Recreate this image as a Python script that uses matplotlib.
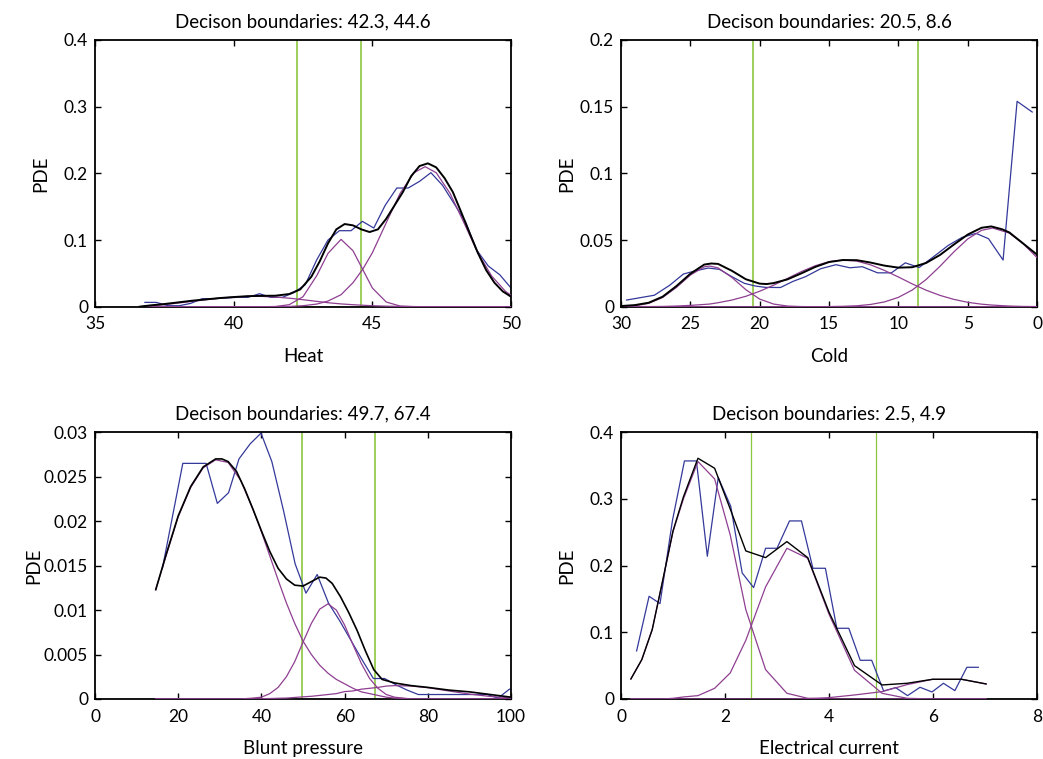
import matplotlib
matplotlib.use("Agg")
import matplotlib.pyplot as plt
from matplotlib.ticker import FixedLocator, FixedFormatter

plt.rcParams['font.family'] = ['Lato', 'DejaVu Sans']
FS = 13.5
TFS = 12.5
plt.rcParams['font.size'] = FS

# ---------------- Panel 1: Heat ----------------
heat_x = [36.80, 37.21, 37.63, 38.04, 38.45, 38.86, 39.28, 39.69, 40.10, 40.51, 40.93,
          41.34, 41.75, 42.16, 42.58, 42.99, 43.40, 43.81, 44.23, 44.64, 45.05, 45.46,
          45.88, 46.29, 46.70, 47.11, 47.53, 47.94, 48.35, 48.76, 49.18, 49.59, 50.00]
heat_pde = [0.0065, 0.0065, 0.0015, 0.0015, 0.005, 0.012, 0.012, 0.013, 0.014, 0.014, 0.0195,
            0.014, 0.014, 0.021, 0.033, 0.070, 0.100, 0.114, 0.114, 0.128, 0.118, 0.152,
            0.178, 0.178, 0.188, 0.201, 0.182, 0.155, 0.128, 0.085, 0.061, 0.048, 0.028]
heat_grid = [36.6, 37.0, 37.5, 38.0, 38.5, 39.0, 39.5, 40.0, 40.5, 41.0, 41.5, 42.0, 42.5,
             43.0, 43.4, 43.87, 44.3, 44.65, 45.0, 45.5, 46.0, 46.5, 46.9, 47.3, 47.8,
             48.3, 48.8, 49.3, 49.8, 50.0]
heat_c1 = [0.0, 0.0015, 0.003, 0.0055, 0.008, 0.0105, 0.0128, 0.0145, 0.0155, 0.0155,
           0.0145, 0.0128, 0.0105, 0.008, 0.006, 0.0042, 0.003, 0.0022, 0.0015, 0.0008,
           0.0004, 0.0002, 0.0001, 0, 0, 0, 0, 0, 0, 0]
heat_c2 = [0, 0, 0, 0, 0, 0, 0, 0, 0, 0,
           0.0003, 0.003, 0.015, 0.047, 0.080, 0.101, 0.084, 0.056, 0.028, 0.007, 0.001, 0.0001,
           0, 0, 0, 0, 0, 0, 0, 0]
heat_c3 = [0, 0, 0, 0, 0, 0, 0, 0, 0, 0,
           0.0001, 0.0004, 0.0015, 0.004, 0.0085, 0.018, 0.036, 0.056, 0.081, 0.126,
           0.170, 0.201, 0.210, 0.201, 0.170, 0.126, 0.081, 0.046, 0.023, 0.017]
heat_mix_x = [36.6, 37.0, 37.5, 38.0, 38.5, 39.0, 39.5, 40.0, 40.5, 41.0, 41.5, 42.0, 42.4,
              42.8, 43.1, 43.4, 43.7, 44.0, 44.3, 44.6, 44.9, 45.2, 45.5, 45.8, 46.1, 46.4,
              46.7, 47.0, 47.3, 47.6, 47.9, 48.2, 48.5, 48.8, 49.1, 49.4, 49.7, 50.0]
heat_mix = [0.000, 0.002, 0.004, 0.0065, 0.009, 0.011, 0.013, 0.0145, 0.0158, 0.0163,
            0.0165, 0.019, 0.026, 0.045, 0.068, 0.095, 0.116, 0.124, 0.122, 0.116, 0.112,
            0.116, 0.132, 0.152, 0.172, 0.196, 0.211, 0.215, 0.209, 0.193, 0.172, 0.142,
            0.111, 0.081, 0.055, 0.036, 0.023, 0.015]
heat_bounds = [42.3, 44.6]

# ---------------- Panel 2: Cold ----------------
cold_x = [29.6, 28.6, 27.6, 26.5, 25.5, 24.6, 23.7, 22.9, 22.0, 21.1, 20.3, 19.6, 18.5,
          17.6, 16.7, 15.6, 14.5, 13.5, 12.6, 11.5, 10.5, 9.5, 8.5, 7.4, 6.4, 5.4, 4.4,
          3.5, 2.45, 1.44, 0.35]
cold_pde = [0.005, 0.0068, 0.0086, 0.016, 0.0245, 0.027, 0.029, 0.028, 0.0225, 0.0175,
            0.0155, 0.0145, 0.0144, 0.019, 0.0225, 0.0285, 0.0315, 0.0292, 0.030, 0.0254,
            0.0254, 0.0329, 0.0294, 0.038, 0.046, 0.052, 0.055, 0.051, 0.035, 0.154, 0.146]
cold_grid = [30, 29, 28, 27, 26, 25, 24, 23.6, 23, 22, 21, 20, 19, 18, 17, 16, 15, 14, 13,
             12, 11, 10, 9, 8, 7, 6, 5, 4, 3.2, 2, 1, 0]
cold_c1 = [0.0002, 0.0007, 0.0025, 0.0069, 0.0145, 0.0237, 0.0299, 0.0305, 0.0291, 0.0219,
           0.0128, 0.0057, 0.0020, 0.0005, 0.0001, 0,
           0, 0, 0, 0, 0, 0, 0, 0, 0, 0, 0, 0, 0, 0, 0, 0]
cold_c2 = [0.0, 0.0001, 0.0001, 0.0002, 0.0005, 0.001, 0.0017, 0.002, 0.003, 0.005, 0.0078,
           0.0116, 0.0161, 0.0212, 0.0263, 0.0307, 0.0338, 0.035, 0.0342, 0.0314, 0.0272,
           0.0223, 0.0171, 0.0124, 0.0085, 0.0055, 0.0033, 0.0019, 0.0012, 0.0005, 0.0002, 0.0001]
cold_c3 = [0, 0, 0, 0, 0, 0, 0, 0, 0, 0, 0, 0, 0, 0, 0, 0,
           0.0001, 0.0003, 0.0007, 0.0017, 0.0036, 0.0070, 0.0125, 0.0204, 0.0303, 0.0411,
           0.0508, 0.0573, 0.059, 0.0552, 0.0472, 0.0368]
cold_mix_x = [30, 29, 28, 27, 26, 25, 24, 23.5, 23, 22, 21, 20, 19.5, 19, 18, 17, 16, 15,
              14, 13, 12, 11, 10, 9, 8, 7, 6, 5, 4, 3.3, 2.5, 2, 1, 0]
cold_mix = [0.0005, 0.0012, 0.003, 0.0075, 0.0155, 0.0247, 0.0316, 0.0324, 0.0321, 0.0269,
            0.0206, 0.0173, 0.0170, 0.0177, 0.0205, 0.0250, 0.0298, 0.0335, 0.0350, 0.0349,
            0.0331, 0.0308, 0.0293, 0.0296, 0.0328, 0.0388, 0.0466, 0.0541, 0.0592, 0.0602,
            0.0580, 0.0557, 0.0474, 0.0390]
cold_bounds = [20.5, 8.6]

# ---------------- Panel 3: Blunt pressure ----------------
blunt_x = [16.2, 21.1, 23.9, 26.7, 29.4, 32.1, 34.6, 37.3, 39.9, 42.5, 45.3, 48.1, 50.7,
           53.4, 56.1, 58.8, 61.5, 64.2, 66.9, 69.6, 72.3, 75.0, 77.7, 94.2, 96.9, 99.6, 100.0]
blunt_pde = [0.0147, 0.0265, 0.0265, 0.0265, 0.022, 0.0232, 0.027, 0.0287, 0.0299, 0.0267,
             0.0212, 0.0152, 0.0119, 0.0140, 0.0108, 0.0088, 0.0066, 0.0044, 0.0023, 0.0023,
             0.0016, 0.0010, 0.0005, 0.0005, 0.0001, 0.0011, 0.0011]
blunt_grid = [14.6, 17, 20, 23, 26, 29, 32, 35, 38, 40, 42, 44, 46, 48, 50, 52, 54, 56, 58,
              60, 62, 64, 66, 68, 70, 72, 76, 80, 85, 90, 95, 100]
blunt_c1 = [0.0123, 0.0160, 0.0205, 0.0238, 0.0260, 0.0269, 0.0266, 0.0246, 0.0213, 0.0188,
            0.0161, 0.0134, 0.0108, 0.0085, 0.0065, 0.0050, 0.0038, 0.0029, 0.0022, 0.0017,
            0.0012, 0.0008, 0.0006, 0.0004, 0.0002, 0.0001, 0, 0, 0, 0, 0, 0]
blunt_c2 = [0, 0, 0, 0, 0, 0, 0, 0, 0.0001, 0.0002, 0.0006, 0.0013, 0.0025, 0.0042, 0.0064,
            0.0085, 0.0101, 0.0107, 0.0100, 0.0083, 0.0061, 0.0040, 0.0023, 0.0012, 0.0005,
            0.0002, 0, 0, 0, 0, 0, 0]
blunt_c3 = [0, 0, 0, 0, 0, 0, 0, 0, 0, 0.00003, 0.00005, 0.00008, 0.0001, 0.00017, 0.00024,
            0.0003, 0.0004, 0.0005, 0.0006, 0.00083, 0.0009, 0.0011, 0.0012, 0.0013, 0.00145,
            0.0015, 0.00145, 0.00127, 0.0009, 0.00055, 0.00028, 0.00012]
blunt_mix_x = [14.6, 17, 20, 23, 26, 29, 30.5, 32, 34, 36, 38, 40, 42, 44, 46, 48, 50, 52,
               54, 55.5, 57, 59, 61, 63, 65, 67, 69, 72, 76, 80, 85, 90, 95, 100]
blunt_mix = [0.0123, 0.0161, 0.0206, 0.0239, 0.0261, 0.0270, 0.0270, 0.0267, 0.0256, 0.0236,
             0.0213, 0.0189, 0.0166, 0.0147, 0.0135, 0.0128, 0.0127, 0.0132, 0.0137, 0.0136,
             0.0130, 0.0115, 0.0097, 0.0077, 0.0054, 0.0033, 0.0022, 0.0018, 0.0015, 0.0013,
             0.0010, 0.0008, 0.0005, 0.0002]
blunt_bounds = [49.7, 67.4]

# ---------------- Panel 4: Electrical current ----------------
elec_x = [0.30, 0.54, 0.75, 0.99, 1.22, 1.45, 1.66, 1.87, 2.11, 2.33, 2.55, 2.78, 3.00, 3.24,
          3.47, 3.69, 3.93, 4.15, 4.38, 4.60, 4.82, 5.05, 5.28, 5.51, 5.75, 5.98, 6.20, 6.42,
          6.65, 6.87]
elec_pde = [0.072, 0.154, 0.143, 0.268, 0.357, 0.357, 0.214, 0.332, 0.289, 0.189, 0.167,
            0.226, 0.226, 0.267, 0.267, 0.196, 0.196, 0.106, 0.106, 0.058, 0.058, 0.012,
            0.017, 0.005, 0.0175, 0.0105, 0.0235, 0.0125, 0.0475, 0.0475]
elec_grid = [0.19, 0.40, 0.60, 0.80, 1.00, 1.20, 1.48, 1.80, 2.10, 2.40, 2.78, 3.19, 3.59,
             4.00, 4.49, 5.02, 5.50, 5.99, 6.55, 7.02]
elec_mix = [0.030, 0.059, 0.104, 0.177, 0.252, 0.303, 0.361, 0.346, 0.285, 0.222, 0.212,
            0.236, 0.212, 0.130, 0.050, 0.021, 0.0235, 0.0295, 0.0295, 0.0225]
elec_c1 = [0.030, 0.059, 0.104, 0.177, 0.251, 0.300, 0.356, 0.330, 0.246, 0.134, 0.044,
           0.0085, 0.001, 0, 0, 0, 0, 0, 0, 0]
elec_c2 = [0, 0, 0, 0, 0.001, 0.003, 0.005, 0.016, 0.039, 0.088, 0.168, 0.226, 0.211, 0.127,
           0.043, 0.0085, 0.001, 0, 0, 0]
elec_c3 = [0, 0, 0, 0, 0, 0, 0, 0, 0, 0, 0, 0, 0.0005, 0.002, 0.006, 0.011, 0.0215, 0.0295,
           0.0295, 0.0225]
elec_bounds = [2.5, 4.9]

BLUE = '#34399a'
PURPLE = '#8e3f91'
GREEN = '#8cc63f'

fig = plt.figure(figsize=(10.43, 7.59), dpi=100)
axL, axR = 0.0911, 0.5954
axW = 0.3989
axT, axB, axH = 0.5959, 0.0791, 0.3514

panels = [
    dict(pos=[axL, axT, axW, axH], title='Decison boundaries: 42.3, 44.6', xlabel='Heat',
         x=heat_x, y=heat_pde, grid=heat_grid, comps=[heat_c1, heat_c2, heat_c3],
         mx=heat_mix_x, my=heat_mix, bounds=heat_bounds, xlim=(35, 50), ylim=(0, 0.4),
         xt=[35, 40, 45, 50], xtl=['35', '40', '45', '50'],
         yt=[0, 0.1, 0.2, 0.3, 0.4], ytl=['0', '0.1', '0.2', '0.3', '0.4'],
         mlw=1.4, glw=1.2, ylx=-0.11),
    dict(pos=[axR, axT, axW, axH], title='Decison boundaries: 20.5, 8.6', xlabel='Cold',
         x=cold_x, y=cold_pde, grid=cold_grid, comps=[cold_c1, cold_c2, cold_c3],
         mx=cold_mix_x, my=cold_mix, bounds=cold_bounds, xlim=(30, 0), ylim=(0, 0.2),
         xt=[30, 25, 20, 15, 10, 5, 0], xtl=['30', '25', '20', '15', '10', '5', '0'],
         yt=[0, 0.05, 0.1, 0.15, 0.2], ytl=['0', '0.05', '0.1', '0.15', '0.2'],
         mlw=1.4, glw=1.2, ylx=-0.11),
    dict(pos=[axL, axB, axW, axH], title='Decison boundaries: 49.7, 67.4', xlabel='Blunt pressure',
         x=blunt_x, y=blunt_pde, grid=blunt_grid, comps=[blunt_c1, blunt_c2, blunt_c3],
         mx=blunt_mix_x, my=blunt_mix, bounds=blunt_bounds, xlim=(0, 100), ylim=(0, 0.03),
         xt=[0, 20, 40, 60, 80, 100], xtl=['0', '20', '40', '60', '80', '100'],
         yt=[0, 0.005, 0.01, 0.015, 0.02, 0.025, 0.03],
         ytl=['0', '0.005', '0.01', '0.015', '0.02', '0.025', '0.03'],
         mlw=1.2, glw=1.2, ylx=-0.128),
    dict(pos=[axR, axB, axW, axH], title='Decison boundaries: 2.5, 4.9', xlabel='Electrical current',
         x=elec_x, y=elec_pde, grid=elec_grid, comps=[elec_c1, elec_c2, elec_c3],
         mx=elec_grid, my=elec_mix, bounds=elec_bounds, xlim=(0, 8), ylim=(0, 0.4),
         xt=[0, 2, 4, 6, 8], xtl=['0', '2', '4', '6', '8'],
         yt=[0, 0.1, 0.2, 0.3, 0.4], ytl=['0', '0.1', '0.2', '0.3', '0.4'],
         mlw=1.0, glw=0.9, ylx=-0.11),
]

for p in panels:
    ax = fig.add_axes(p['pos'])
    for b in p['bounds']:
        ax.axvline(b, color=GREEN, lw=p['glw'], zorder=1)
    ax.plot(p['x'], p['y'], color=BLUE, lw=0.9, zorder=2)
    for c in p['comps']:
        ax.plot(p['grid'], c, color=PURPLE, lw=0.9, zorder=3)
    ax.plot(p['mx'], p['my'], color='black', lw=p['mlw'], zorder=4)
    ax.set_xlim(*p['xlim'])
    ax.set_ylim(*p['ylim'])
    ax.xaxis.set_major_locator(FixedLocator(p['xt']))
    ax.xaxis.set_major_formatter(FixedFormatter(p['xtl']))
    ax.yaxis.set_major_locator(FixedLocator(p['yt']))
    ax.yaxis.set_major_formatter(FixedFormatter(p['ytl']))
    ax.tick_params(direction='in', length=4, width=1.0, top=True, right=True,
                   labelsize=TFS, pad=5)
    ax.tick_params(axis='x', pad=7)
    for s in ax.spines.values():
        s.set_linewidth(1.3)
    ax.set_title(p['title'], fontsize=FS, pad=9)
    ax.set_xlabel(p['xlabel'], fontsize=FS)
    ax.set_ylabel('PDE', fontsize=FS)
    ax.xaxis.set_label_coords(0.5, -0.155)
    ax.yaxis.set_label_coords(p['ylx'], 0.5)

fig.savefig('out.png', dpi=100)
